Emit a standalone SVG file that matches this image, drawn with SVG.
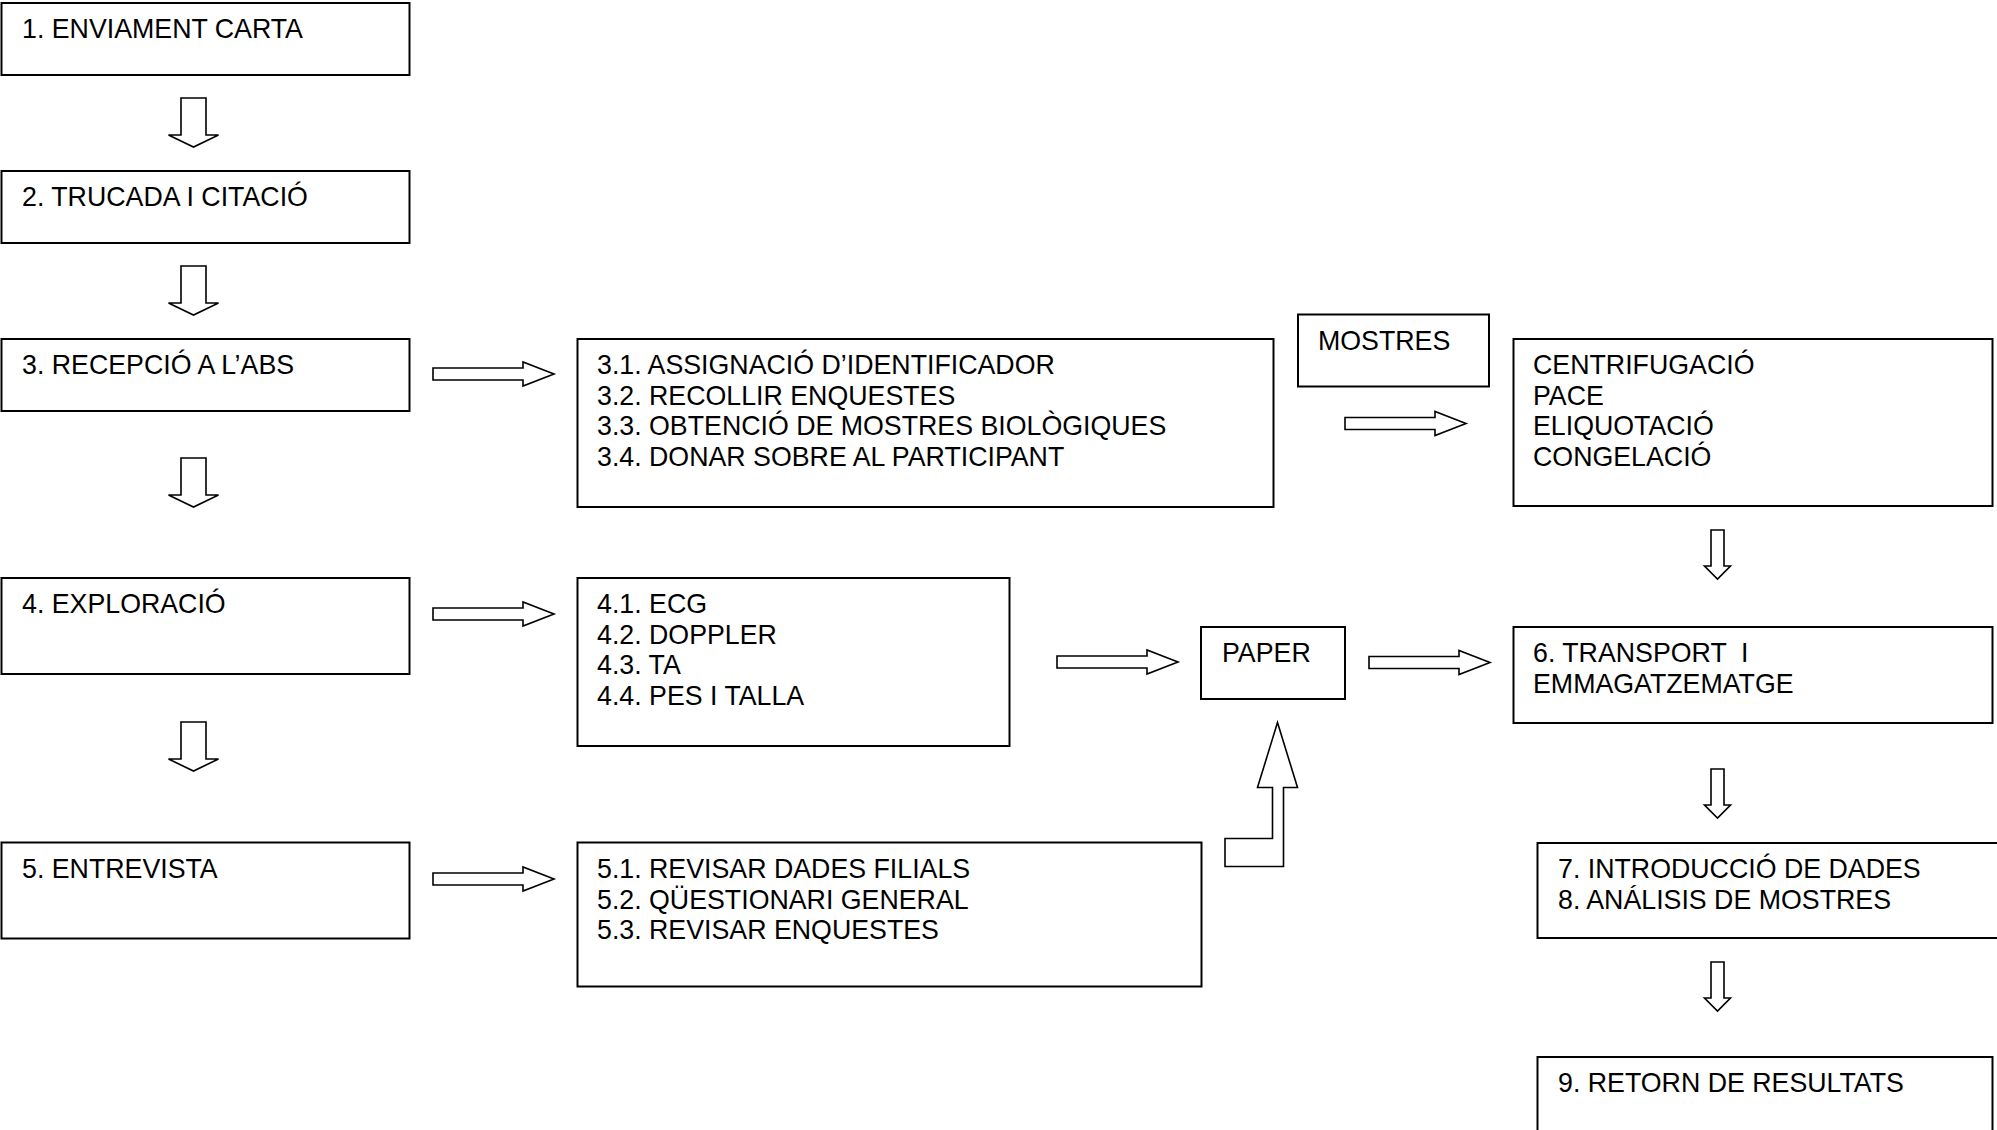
<svg xmlns="http://www.w3.org/2000/svg" width="1997" height="1130" viewBox="0 0 1997 1130">
<style>
.box{fill:#fff;stroke:#000;stroke-width:2}
.arr{fill:#fff;stroke:#000;stroke-width:1.6;stroke-linejoin:miter}
text{font-family:"Liberation Sans",Arial,sans-serif;font-size:26.75px;fill:#000;white-space:pre}
</style>
<defs>
<path id="hArrow" d="M0,-6 L90,-6 L90,-12 L121,0 L90,12 L90,6 L0,6 Z"/>
<path id="vWide" d="M-12.5,0 L12.5,0 L12.5,37 L25,37 L0,49 L-25,37 L-12.5,37 Z"/>
<path id="vNarrow" d="M-6.5,0 L6.5,0 L6.5,36 L13,36 L0,49 L-13,36 L-6.5,36 Z"/>
</defs>
<rect width="1997" height="1130" fill="#fff"/>
<g id="connectors">
<use href="#vWide" class="arr" x="193.5" y="98"/>
<use href="#vWide" class="arr" x="193.5" y="266"/>
<use href="#vWide" class="arr" x="193.5" y="458"/>
<use href="#vWide" class="arr" x="193.5" y="722"/>
<use href="#hArrow" class="arr" x="433" y="374"/>
<use href="#hArrow" class="arr" x="433" y="614"/>
<use href="#hArrow" class="arr" x="433" y="879"/>
<use href="#hArrow" class="arr" x="1057" y="662"/>
<use href="#hArrow" class="arr" x="1369" y="662.5"/>
<use href="#hArrow" class="arr" x="1345" y="423.5"/>
<use href="#vNarrow" class="arr" x="1717.5" y="530"/>
<use href="#vNarrow" class="arr" x="1717.5" y="769"/>
<use href="#vNarrow" class="arr" x="1717.5" y="962"/>
<path class="arr" d="M1225,838.5 L1272.5,838.5 L1272.5,787.5 L1257.5,787.5 L1277.5,722.5 L1297.5,787.5 L1283.5,787.5 L1283.5,866.5 L1225,866.5 Z"/>
</g>
<g id="n1"><rect class="box" x="1.5" y="3" width="408" height="72"/><text x="22" y="38">1. ENVIAMENT CARTA</text></g>
<g id="n2"><rect class="box" x="1.5" y="171" width="408" height="72"/><text x="22" y="206">2. TRUCADA I CITACIÓ</text></g>
<g id="n3"><rect class="box" x="1.5" y="339" width="408" height="72"/><text x="22" y="374">3. RECEPCIÓ A L’ABS</text></g>
<g id="n4"><rect class="box" x="1.5" y="578" width="408" height="96"/><text x="22" y="613">4. EXPLORACIÓ</text></g>
<g id="n5"><rect class="box" x="1.5" y="842.5" width="408" height="96"/><text x="22" y="878">5. ENTREVISTA</text></g>
<g id="n31"><rect class="box" x="577.5" y="339" width="696" height="168"/>
<text x="597"><tspan x="597" y="374">3.1. ASSIGNACIÓ D’IDENTIFICADOR</tspan><tspan x="597" y="404.5">3.2. RECOLLIR ENQUESTES</tspan><tspan x="597" y="435">3.3. OBTENCIÓ DE MOSTRES BIOLÒGIQUES</tspan><tspan x="597" y="465.5">3.4. DONAR SOBRE AL PARTICIPANT</tspan></text></g>
<g id="n41"><rect class="box" x="577.5" y="578" width="432" height="168"/>
<text x="597"><tspan x="597" y="613">4.1. ECG</tspan><tspan x="597" y="643.5">4.2. DOPPLER</tspan><tspan x="597" y="674">4.3. TA</tspan><tspan x="597" y="704.5">4.4. PES I TALLA</tspan></text></g>
<g id="n51"><rect class="box" x="577.5" y="842.5" width="624" height="144"/>
<text x="597"><tspan x="597" y="878">5.1. REVISAR DADES FILIALS</tspan><tspan x="597" y="908.5">5.2. QÜESTIONARI GENERAL</tspan><tspan x="597" y="939">5.3. REVISAR ENQUESTES</tspan></text></g>
<g id="nMostres"><rect class="box" x="1298" y="314.5" width="191" height="72"/><text x="1318" y="349.5">MOSTRES</text></g>
<g id="nCentr"><rect class="box" x="1513.5" y="339" width="479" height="167"/>
<text x="1533"><tspan x="1533" y="374">CENTRIFUGACIÓ</tspan><tspan x="1533" y="404.5">PACE</tspan><tspan x="1533" y="435">ELIQUOTACIÓ</tspan><tspan x="1533" y="465.5">CONGELACIÓ</tspan></text></g>
<g id="nPaper"><rect class="box" x="1201" y="627" width="144" height="72"/><text x="1222" y="662">PAPER</text></g>
<g id="n6"><rect class="box" x="1513.5" y="627" width="479" height="96"/>
<text x="1533"><tspan x="1533" y="662">6. TRANSPORT  I</tspan><tspan x="1533" y="693">EMMAGATZEMATGE</tspan></text></g>
<g id="n78"><rect class="box" x="1537.5" y="843" width="470" height="95"/>
<text x="1558"><tspan x="1558" y="878">7. INTRODUCCIÓ DE DADES</tspan><tspan x="1558" y="908.5">8. ANÁLISIS DE MOSTRES</tspan></text></g>
<g id="n9"><rect class="box" x="1537.5" y="1057" width="455" height="90"/><text x="1558" y="1092">9. RETORN DE RESULTATS</text></g>
</svg>
